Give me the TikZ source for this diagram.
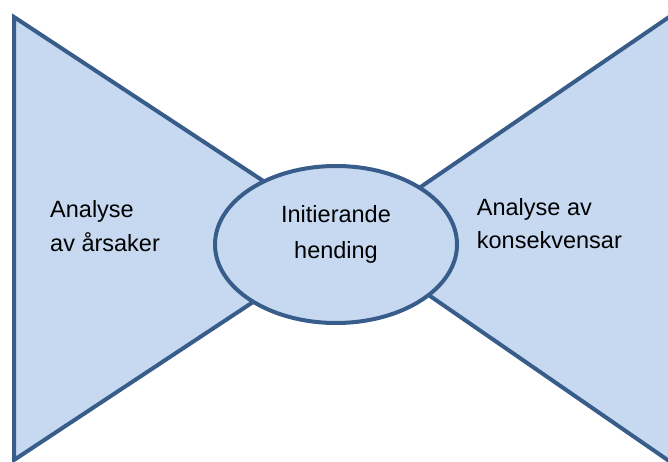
\documentclass[tikz,border=0pt]{standalone}
\usepackage{fontspec}
\setmainfont{Liberation Sans}
\usetikzlibrary{shapes.geometric}
\definecolor{lysblaa}{HTML}{C6D9F1}
\definecolor{moerkblaa}{HTML}{385D8A}
\tikzset{
	flate/.style={fill=lysblaa,draw=moerkblaa,line width=4pt,line join=miter},
	tekst/.style={inner sep=0pt,align=left,font=\fontsize{23.5}{33.3}\selectfont}
}
\begin{document}
\begin{tikzpicture}[x=1pt,y=-1pt]
		\useasboundingbox (0,0) rectangle (668,462);
		\draw[flate] (14,17)--(14,460)--(350,238)--cycle;
		\draw[flate] (672,15)--(672,463)--(346,238)--cycle;
		\node[flate,ellipse,minimum width=242pt,minimum height=157pt,inner sep=0pt] (hending) at (336,244.5) {};
		\node[tekst,align=center,font=\fontsize{23.5}{35.6}\selectfont,anchor=base] (hendingtekst) at (336,258.3) {Initierande\\hending};
		\node[tekst,anchor=base west] (aarsaker) at (50,251) {Analyse\\av årsaker};
		\node[tekst,anchor=base west] (konsekvensar) at (476.7,248.3) {Analyse av\\konsekvensar};
\end{tikzpicture}
\end{document}
